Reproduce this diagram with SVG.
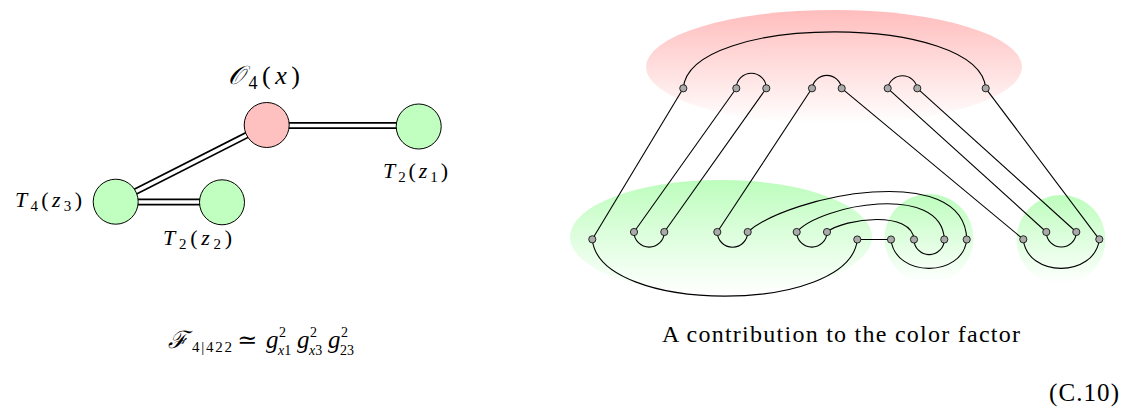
<svg xmlns="http://www.w3.org/2000/svg" width="1129" height="416" viewBox="0 0 1129 416">
<style>
.txt{font-family:"Liberation Serif","DejaVu Serif",serif;fill:#000}
.it{font-style:italic}
.ln{fill:none;stroke:#000;stroke-width:1.1}
.dot{fill:#aaa;stroke:#000;stroke-width:0.8}
.dbl-o{stroke:#000;stroke-width:7;fill:none}
.dbl-i{stroke:#fff;stroke-width:3.6;fill:none}
.node{stroke:#000;stroke-width:1}
</style>
<defs>
<linearGradient id="gp" x1="0" y1="0" x2="0" y2="1">
<stop offset="0" stop-color="#ffbdbd"/>
<stop offset="1" stop-color="#ffffff"/>
</linearGradient>
<linearGradient id="gg" x1="0" y1="0" x2="0" y2="1">
<stop offset="0" stop-color="#bdfdbd"/>
<stop offset="1" stop-color="#ffffff"/>
</linearGradient>
</defs>
<rect width="1129" height="416" fill="#fff"/>

<!-- Left diagram -->
<g id="connectors-left">
<line class="dbl-o" x1="266.7" y1="125.5" x2="418.7" y2="125.5"/>
<line class="dbl-i" x1="266.7" y1="125.5" x2="418.7" y2="125.5"/>
<line class="dbl-o" x1="266.7" y1="125" x2="115.7" y2="201.7"/>
<line class="dbl-i" x1="266.7" y1="125" x2="115.7" y2="201.7"/>
<line class="dbl-o" x1="115.7" y1="202" x2="222" y2="202"/>
<line class="dbl-i" x1="115.7" y1="202" x2="222" y2="202"/>
</g>
<g id="node-O4">
<circle class="node" cx="266.7" cy="125" r="22.5" fill="#ffc0c0"/>
<text class="txt" x="228" y="84" font-size="26" textLength="72" lengthAdjust="spacing"><tspan class="it">𝒪</tspan><tspan font-size="18" dy="5">4</tspan><tspan dy="-5">(</tspan><tspan class="it">x</tspan>)</text>
</g>
<g id="node-T2z1">
<circle class="node" cx="418.7" cy="126.5" r="22.5" fill="#c0ffc0"/>
<text class="txt" x="383" y="178" font-size="22" textLength="65" lengthAdjust="spacing"><tspan class="it">T</tspan><tspan font-size="15" dy="4">2</tspan><tspan dy="-4">(</tspan><tspan class="it">z</tspan><tspan font-size="15" dy="4">1</tspan><tspan dy="-4">)</tspan></text>
</g>
<g id="node-T4z3">
<circle class="node" cx="115.7" cy="201.7" r="22.5" fill="#c0ffc0"/>
<text class="txt" x="15" y="207" font-size="22" textLength="67" lengthAdjust="spacing"><tspan class="it">T</tspan><tspan font-size="15" dy="4">4</tspan><tspan dy="-4">(</tspan><tspan class="it">z</tspan><tspan font-size="15" dy="4">3</tspan><tspan dy="-4">)</tspan></text>
</g>
<g id="node-T2z2">
<circle class="node" cx="222" cy="202.3" r="22.5" fill="#c0ffc0"/>
<text class="txt" x="163" y="245" font-size="22" textLength="69" lengthAdjust="spacing"><tspan class="it">T</tspan><tspan font-size="15" dy="4">2</tspan><tspan dy="-4">(</tspan><tspan class="it">z</tspan><tspan font-size="15" dy="4">2</tspan><tspan dy="-4">)</tspan></text>
</g>
<g id="formula">
<text class="txt it" x="168" y="348" font-size="24">ℱ</text>
<text class="txt" x="192" y="352" font-size="15" textLength="40" lengthAdjust="spacing">4|422</text>
<text class="txt" x="237" y="348" font-size="24">≃</text>
<text class="txt it" x="266" y="348" font-size="25">g</text>
<text class="txt" x="279" y="337" font-size="14">2</text>
<text class="txt" x="278" y="355" font-size="14"><tspan class="it">x</tspan>1</text>
<text class="txt it" x="297" y="348" font-size="25">g</text>
<text class="txt" x="310" y="337" font-size="14">2</text>
<text class="txt" x="309" y="355" font-size="14"><tspan class="it">x</tspan>3</text>
<text class="txt it" x="328" y="348" font-size="25">g</text>
<text class="txt" x="341" y="337" font-size="14">2</text>
<text class="txt" x="340" y="355" font-size="14">23</text>
</g>

<!-- Right diagram: regions -->
<g id="region-top">
<ellipse cx="834" cy="67" rx="188" ry="57" fill="url(#gp)"/>
</g>
<g id="region-bottom-left">
<ellipse cx="721" cy="237" rx="151" ry="57" fill="url(#gg)"/>
</g>
<g id="region-bottom-mid">
<circle cx="929" cy="238.5" r="44.5" fill="url(#gg)"/>
</g>
<g id="region-bottom-right">
<circle cx="1061" cy="239.5" r="44.5" fill="url(#gg)"/>
</g>

<g id="connectors">
<path class="ln" d="M683.3,88.3 C689,13 980,13 985.7,88.3"/>
<path class="ln" d="M736.3,88.3 A15,15 0 0 1 766.3,88.3"/>
<path class="ln" d="M812,88.3 A15,15 0 0 1 841.7,88.3"/>
<path class="ln" d="M887.7,88.3 A15,15 0 0 1 917.3,88.3"/>
<line class="ln" x1="683.3" y1="88.3" x2="592.3" y2="239.3"/>
<line class="ln" x1="736.3" y1="88.3" x2="634" y2="232"/>
<line class="ln" x1="766.3" y1="88.3" x2="664.3" y2="232"/>
<line class="ln" x1="812" y1="88.3" x2="717.3" y2="232"/>
<line class="ln" x1="841.7" y1="88.3" x2="1023.3" y2="239.3"/>
<line class="ln" x1="887.7" y1="88.3" x2="1046.3" y2="232"/>
<line class="ln" x1="917.3" y1="88.3" x2="1076.3" y2="232"/>
<line class="ln" x1="985.7" y1="88.3" x2="1099.3" y2="239.3"/>
<path class="ln" d="M592.3,239.3 C599,315 850,315 857.3,239.5"/>
<path class="ln" d="M634,232 A15.15,15.15 0 0 0 664.3,232"/>
<path class="ln" d="M717.3,232 A15.2,15.2 0 0 0 747.7,232"/>
<path class="ln" d="M796.7,232 A15.15,15.15 0 0 0 827,232"/>
<path class="ln" d="M747.7,232 C790,195 965,160 966.7,239.5"/>
<path class="ln" d="M796.7,232 C820,205 942,182 944.3,239.5"/>
<path class="ln" d="M827,232 C845,218 912,210 914,239.5"/>
<line class="ln" x1="857.3" y1="239.5" x2="891" y2="239.5"/>
<path class="ln" d="M891,239.5 C895,278 963,278 966.7,239.5"/>
<path class="ln" d="M914,239.5 A15.15,15.15 0 0 0 944.3,239.5"/>
<path class="ln" d="M1023.3,239.3 C1027,278 1095,278 1099.3,239.3"/>
<path class="ln" d="M1046.3,232 A15,15 0 0 0 1076.3,232"/>
</g>

<g id="dots">
<circle class="dot" cx="683.3" cy="88.3" r="3.6"/>
<circle class="dot" cx="736.3" cy="88.3" r="3.6"/>
<circle class="dot" cx="766.3" cy="88.3" r="3.6"/>
<circle class="dot" cx="812" cy="88.3" r="3.6"/>
<circle class="dot" cx="841.7" cy="88.3" r="3.6"/>
<circle class="dot" cx="887.7" cy="88.3" r="3.6"/>
<circle class="dot" cx="917.3" cy="88.3" r="3.6"/>
<circle class="dot" cx="985.7" cy="88.3" r="3.6"/>
<circle class="dot" cx="592.3" cy="239.3" r="3.6"/>
<circle class="dot" cx="634" cy="232" r="3.6"/>
<circle class="dot" cx="664.3" cy="232" r="3.6"/>
<circle class="dot" cx="717.3" cy="232" r="3.6"/>
<circle class="dot" cx="747.7" cy="232" r="3.6"/>
<circle class="dot" cx="796.7" cy="232" r="3.6"/>
<circle class="dot" cx="827" cy="232" r="3.6"/>
<circle class="dot" cx="857.3" cy="239.5" r="3.6"/>
<circle class="dot" cx="891" cy="239.5" r="3.6"/>
<circle class="dot" cx="914" cy="239.5" r="3.6"/>
<circle class="dot" cx="944.3" cy="239.5" r="3.6"/>
<circle class="dot" cx="966.7" cy="239.5" r="3.6"/>
<circle class="dot" cx="1023.3" cy="239.3" r="3.6"/>
<circle class="dot" cx="1046.3" cy="232" r="3.6"/>
<circle class="dot" cx="1076.3" cy="232" r="3.6"/>
<circle class="dot" cx="1099.3" cy="239.3" r="3.6"/>
</g>

<g id="captions">
<text class="txt" x="662" y="342" font-size="24" textLength="358" lengthAdjust="spacing">A contribution to the color factor</text>
<text class="txt" x="1049" y="401" font-size="25" textLength="70" lengthAdjust="spacing">(C.10)</text>
</g>
</svg>
